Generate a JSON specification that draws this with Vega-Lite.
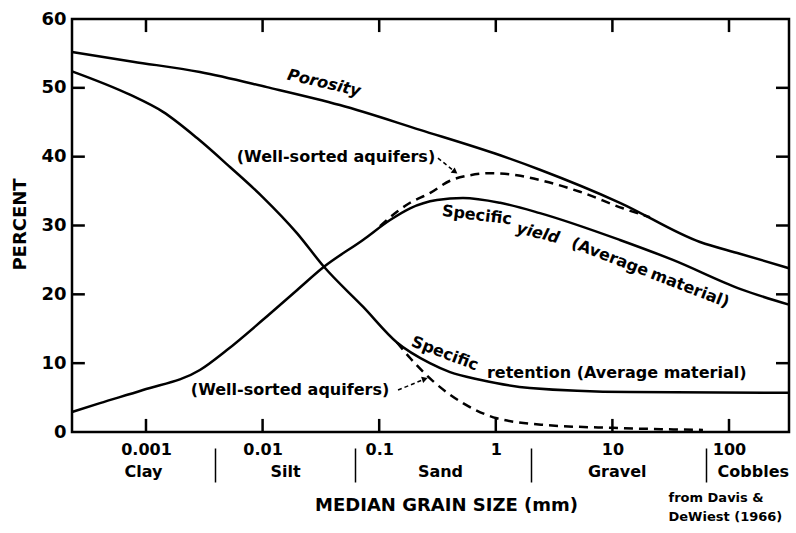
{
  "$schema": "https://vega.github.io/schema/vega-lite/v6.json",
  "width": 717,
  "height": 413,
  "autosize": {"type": "none"},
  "padding": {"left": 72, "top": 19, "right": 7, "bottom": 101},
  "background": "white",
  "config": {
    "font": "DejaVu Sans",
    "view": {"stroke": "black", "strokeWidth": 2.5, "fill": "transparent"},
    "axis": {"domain": false, "grid": false, "tickColor": "black", "labelColor": "black", "titleColor": "black", "labelFont": "DejaVu Sans", "titleFont": "DejaVu Sans", "zindex": 1}
  },
  "datasets": {
    "solid": [
      {"curve": "Porosity", "size": 0.000232, "pct": 55.2},
      {"curve": "Porosity", "size": 0.000773, "pct": 53.8},
      {"curve": "Porosity", "size": 0.0029, "pct": 52.3},
      {"curve": "Porosity", "size": 0.0109, "pct": 50.1},
      {"curve": "Porosity", "size": 0.046, "pct": 47.5},
      {"curve": "Porosity", "size": 0.224, "pct": 43.9},
      {"curve": "Porosity", "size": 1.09, "pct": 40.2},
      {"curve": "Porosity", "size": 2.39, "pct": 38.1},
      {"curve": "Porosity", "size": 11.6, "pct": 33.3},
      {"curve": "Porosity", "size": 56.4, "pct": 27.6},
      {"curve": "Porosity", "size": 124, "pct": 25.9},
      {"curve": "Porosity", "size": 327, "pct": 23.8},
      {"curve": "Specific yield", "size": 0.000232, "pct": 2.9},
      {"curve": "Specific yield", "size": 0.000403, "pct": 4.2},
      {"curve": "Specific yield", "size": 0.000942, "pct": 6.1},
      {"curve": "Specific yield", "size": 0.0029, "pct": 9.0},
      {"curve": "Specific yield", "size": 0.00494, "pct": 11.9},
      {"curve": "Specific yield", "size": 0.01007, "pct": 16.3},
      {"curve": "Specific yield", "size": 0.0197, "pct": 20.6},
      {"curve": "Specific yield", "size": 0.0336, "pct": 24.0},
      {"curve": "Specific yield", "size": 0.0726, "pct": 27.9},
      {"curve": "Specific yield", "size": 0.124, "pct": 30.8},
      {"curve": "Specific yield", "size": 0.184, "pct": 32.5},
      {"curve": "Specific yield", "size": 0.313, "pct": 33.7},
      {"curve": "Specific yield", "size": 0.523, "pct": 34.0},
      {"curve": "Specific yield", "size": 1.09, "pct": 33.3},
      {"curve": "Specific yield", "size": 2.39, "pct": 31.8},
      {"curve": "Specific yield", "size": 11.6, "pct": 27.9},
      {"curve": "Specific yield", "size": 33.0, "pct": 25.0},
      {"curve": "Specific yield", "size": 124, "pct": 20.8},
      {"curve": "Specific yield", "size": 327, "pct": 18.5},
      {"curve": "Specific retention", "size": 0.000232, "pct": 52.4},
      {"curve": "Specific retention", "size": 0.000728, "pct": 49.0},
      {"curve": "Specific retention", "size": 0.0014, "pct": 46.5},
      {"curve": "Specific retention", "size": 0.00274, "pct": 42.7},
      {"curve": "Specific retention", "size": 0.00525, "pct": 38.5},
      {"curve": "Specific retention", "size": 0.01007, "pct": 34.1},
      {"curve": "Specific retention", "size": 0.0197, "pct": 28.9},
      {"curve": "Specific retention", "size": 0.0336, "pct": 24.0},
      {"curve": "Specific retention", "size": 0.0726, "pct": 18.2},
      {"curve": "Specific retention", "size": 0.142, "pct": 13.0},
      {"curve": "Specific retention", "size": 0.272, "pct": 10.0},
      {"curve": "Specific retention", "size": 0.405, "pct": 8.7},
      {"curve": "Specific retention", "size": 0.731, "pct": 7.6},
      {"curve": "Specific retention", "size": 1.96, "pct": 6.4},
      {"curve": "Specific retention", "size": 14.2, "pct": 5.8},
      {"curve": "Specific retention", "size": 327, "pct": 5.7}
    ],
    "dashed": [
      {"curve": "Specific yield (well-sorted)", "size": 0.1016, "pct": 29.9},
      {"curve": "Specific yield (well-sorted)", "size": 0.142, "pct": 32.0},
      {"curve": "Specific yield (well-sorted)", "size": 0.184, "pct": 33.3},
      {"curve": "Specific yield (well-sorted)", "size": 0.272, "pct": 34.7},
      {"curve": "Specific yield (well-sorted)", "size": 0.405, "pct": 36.5},
      {"curve": "Specific yield (well-sorted)", "size": 0.6, "pct": 37.3},
      {"curve": "Specific yield (well-sorted)", "size": 0.891, "pct": 37.6},
      {"curve": "Specific yield (well-sorted)", "size": 1.52, "pct": 37.3},
      {"curve": "Specific yield (well-sorted)", "size": 2.39, "pct": 36.6},
      {"curve": "Specific yield (well-sorted)", "size": 5.27, "pct": 34.9},
      {"curve": "Specific yield (well-sorted)", "size": 12.3, "pct": 32.5},
      {"curve": "Specific yield (well-sorted)", "size": 21.0, "pct": 31.2},
      {"curve": "Specific retention (well-sorted)", "size": 0.142, "pct": 13.0},
      {"curve": "Specific retention (well-sorted)", "size": 0.184, "pct": 10.75},
      {"curve": "Specific retention (well-sorted)", "size": 0.289, "pct": 7.4},
      {"curve": "Specific retention (well-sorted)", "size": 0.523, "pct": 4.2},
      {"curve": "Specific retention (well-sorted)", "size": 1.02, "pct": 2.0},
      {"curve": "Specific retention (well-sorted)", "size": 2.75, "pct": 1.0},
      {"curve": "Specific retention (well-sorted)", "size": 10.1, "pct": 0.6},
      {"curve": "Specific retention (well-sorted)", "size": 59.8, "pct": 0.3}
    ],
    "labelsFlat": [
      {"label": "(Well-sorted aquifers)", "size": 0.0426, "pct": 39.95},
      {"label": "(Well-sorted aquifers)", "size": 0.0172, "pct": 6.1},
      {"label": "retention (Average material)", "size": 10.9, "pct": 8.6}
    ],
    "labelPorosity": [
      {"label": "Porosity", "size": 0.0336, "pct": 50.7}
    ],
    "labelTilt7": [
      {"label": "Specific", "size": 0.689, "pct": 31.5}
    ],
    "labelTilt14": [
      {"label": "yield", "size": 2.3, "pct": 28.9}
    ],
    "labelTilt21": [
      {"label": "(Average", "size": 9.53, "pct": 25.4},
      {"label": "material)", "size": 46.2, "pct": 20.9},
      {"label": "Specific", "size": 0.366, "pct": 11.4}
    ],
    "arrows": [
      {"arrow": "top", "size": 0.319, "pct": 39.8},
      {"arrow": "top", "size": 0.447, "pct": 37.8},
      {"arrow": "bottom", "size": 0.145, "pct": 6.1},
      {"arrow": "bottom", "size": 0.2466, "pct": 7.7}
    ],
    "headTop": [{"size": 0.447, "pct": 37.8}],
    "headBottom": [{"size": 0.2466, "pct": 7.7}],
    "xTicks": [{"size": 0.001}, {"size": 0.01}, {"size": 0.1}, {"size": 1}, {"size": 10}, {"size": 100}],
    "yTicks": [{"pct": 10}, {"pct": 20}, {"pct": 30}, {"pct": 40}, {"pct": 50}]
  },
  "resolve": {"axis": {"x": "independent", "y": "independent"}},
  "layer": [
    {
      "data": {"name": "solid"},
      "mark": {"type": "line", "color": "black", "strokeWidth": 2.5, "interpolate": "monotone"},
      "encoding": {
        "x": {"field": "size", "type": "quantitative", "scale": {"type": "log", "domain": [0.000232, 327], "nice": false}, "axis": null},
        "y": {"field": "pct", "type": "quantitative", "scale": {"domain": [0, 60], "nice": false}, "axis": null},
        "detail": {"field": "curve"}
      }
    },
    {
      "data": {"name": "dashed"},
      "mark": {"type": "line", "color": "black", "strokeWidth": 2.5, "strokeDash": [9, 6], "interpolate": "monotone"},
      "encoding": {
        "x": {"field": "size", "type": "quantitative", "scale": {"type": "log", "domain": [0.000232, 327], "nice": false}, "axis": null},
        "y": {"field": "pct", "type": "quantitative", "scale": {"domain": [0, 60], "nice": false}, "axis": null},
        "detail": {"field": "curve"}
      }
    },
    {
      "data": {"name": "arrows"},
      "mark": {"type": "line", "color": "black", "strokeWidth": 1.5, "strokeDash": [4, 3]},
      "encoding": {
        "x": {"field": "size", "type": "quantitative", "scale": {"type": "log", "domain": [0.000232, 327], "nice": false}, "axis": null},
        "y": {"field": "pct", "type": "quantitative", "scale": {"domain": [0, 60], "nice": false}, "axis": null},
        "detail": {"field": "arrow"}
      }
    },
    {
      "data": {"name": "xTicks"},
      "mark": {"type": "rule", "color": "black", "opacity": 1, "strokeWidth": 2.5},
      "encoding": {
        "x": {"field": "size", "type": "quantitative", "scale": {"type": "log", "domain": [0.000232, 327], "nice": false}, "axis": null},
        "y": {"datum": 0, "type": "quantitative", "scale": {"domain": [0, 60], "nice": false}, "axis": null},
        "y2": {"datum": 1.9}
      }
    },
    {
      "data": {"name": "xTicks"},
      "mark": {"type": "rule", "color": "black", "opacity": 1, "strokeWidth": 2.5},
      "encoding": {
        "x": {"field": "size", "type": "quantitative", "scale": {"type": "log", "domain": [0.000232, 327], "nice": false}, "axis": null},
        "y": {"datum": 60, "type": "quantitative", "scale": {"domain": [0, 60], "nice": false}, "axis": null},
        "y2": {"datum": 58.1}
      }
    },
    {
      "data": {"name": "yTicks"},
      "mark": {"type": "rule", "color": "black", "opacity": 1, "strokeWidth": 2.5},
      "encoding": {
        "x": {"datum": 0.000232, "type": "quantitative", "scale": {"type": "log", "domain": [0.000232, 327], "nice": false}, "axis": null},
        "x2": {"datum": 0.000299},
        "y": {"field": "pct", "type": "quantitative", "scale": {"domain": [0, 60], "nice": false}, "axis": null}
      }
    },
    {
      "data": {"name": "yTicks"},
      "mark": {"type": "rule", "color": "black", "opacity": 1, "strokeWidth": 2.5},
      "encoding": {
        "x": {"datum": 327, "type": "quantitative", "scale": {"type": "log", "domain": [0.000232, 327], "nice": false}, "axis": null},
        "x2": {"datum": 253},
        "y": {"field": "pct", "type": "quantitative", "scale": {"domain": [0, 60], "nice": false}, "axis": null}
      }
    },
    {
      "data": {"name": "labelTilt7"},
      "mark": {"type": "text", "font": "DejaVu Sans", "fontSize": 16, "fontWeight": "bold", "angle": 7, "align": "center", "baseline": "middle", "color": "black"},
      "encoding": {
        "x": {"field": "size", "type": "quantitative",
          "scale": {"type": "log", "domain": [0.000232, 327], "nice": false},
          "axis": {"orient": "bottom", "offset": -13, "values": [0.001, 0.01, 0.1, 1, 10, 100], "format": "~g",
            "ticks": true, "tickOpacity": 0, "tickSize": 13, "tickWidth": 2, "labelPadding": 9, "labelFontSize": 16, "labelFontWeight": "bold",
            "labelFlush": false, "labelOverlap": false,
            "title": "MEDIAN GRAIN SIZE (mm)", "titleFontSize": 18, "titleFontWeight": "bold",
            "titleX": 374, "titleY": 86, "titleAlign": "center", "titleBaseline": "middle"}},
        "y": {"field": "pct", "type": "quantitative",
          "scale": {"domain": [0, 60], "nice": false},
          "axis": {"orient": "left", "offset": -13, "values": [0, 10, 20, 30, 40, 50, 60],
            "ticks": true, "tickOpacity": 0, "tickSize": 13, "tickWidth": 2, "labelPadding": 6, "labelFontSize": 18, "labelFontWeight": "bold",
            "labelFlush": false, "labelOverlap": false,
            "title": "PERCENT", "titleFontSize": 18, "titleFontWeight": "bold",
            "titleX": -65, "titleY": 205, "titleAngle": -90, "titleAlign": "center", "titleBaseline": "middle"}},
        "text": {"field": "label"}
      }
    },
    {
      "data": {"name": "labelTilt14"},
      "mark": {"type": "text", "font": "DejaVu Sans", "fontSize": 16, "fontWeight": "bold", "fontStyle": "italic", "angle": 14, "align": "center", "baseline": "middle", "color": "black"},
      "encoding": {
        "x": {"field": "size", "type": "quantitative",
          "scale": {"type": "log", "domain": [0.000232, 327], "nice": false},
          "axis": {"orient": "bottom", "values": [0.000942, 0.01556, 0.332, 10.9, 160],
            "labelExpr": "datum.value < 0.005 ? 'Clay' : datum.value < 0.05 ? 'Silt' : datum.value < 1 ? 'Sand' : datum.value < 50 ? 'Gravel' : 'Cobbles'",
            "ticks": false, "tickSize": 0, "labelPadding": 31, "labelFontSize": 16, "labelFontWeight": "bold",
            "labelFlush": false, "labelOverlap": false, "title": null}},
        "y": {"field": "pct", "type": "quantitative", "scale": {"domain": [0, 60], "nice": false}, "axis": null},
        "text": {"field": "label"}
      }
    },
    {
      "data": {"name": "labelsFlat"},
      "mark": {"type": "text", "font": "DejaVu Sans", "fontSize": 16, "fontWeight": "bold", "align": "center", "baseline": "middle", "color": "black"},
      "encoding": {
        "x": {"field": "size", "type": "quantitative",
          "scale": {"type": "log", "domain": [0.000232, 327], "nice": false},
          "axis": {"orient": "bottom", "offset": 16, "values": [0.0039, 0.0625, 2, 64],
            "tickSize": 34, "tickWidth": 1.5, "labels": false,
            "title": ["from Davis &", "DeWiest (1966)"], "titleFontSize": 13, "titleFontWeight": "bold",
            "titleLineHeight": 19, "titleX": 596, "titleY": 43, "titleAlign": "left", "titleBaseline": "top"}},
        "y": {"field": "pct", "type": "quantitative", "scale": {"domain": [0, 60], "nice": false}, "axis": null},
        "text": {"field": "label"}
      }
    },
    {
      "data": {"name": "labelPorosity"},
      "mark": {"type": "text", "font": "DejaVu Sans", "fontSize": 16, "fontWeight": "bold", "fontStyle": "italic", "angle": 13, "align": "center", "baseline": "middle", "color": "black"},
      "encoding": {
        "x": {"field": "size", "type": "quantitative", "scale": {"type": "log", "domain": [0.000232, 327], "nice": false}, "axis": null},
        "y": {"field": "pct", "type": "quantitative", "scale": {"domain": [0, 60], "nice": false}, "axis": null},
        "text": {"field": "label"}
      }
    },
    {
      "data": {"name": "labelTilt21"},
      "mark": {"type": "text", "font": "DejaVu Sans", "fontSize": 16, "fontWeight": "bold", "angle": 21, "align": "center", "baseline": "middle", "color": "black"},
      "encoding": {
        "x": {"field": "size", "type": "quantitative", "scale": {"type": "log", "domain": [0.000232, 327], "nice": false}, "axis": null},
        "y": {"field": "pct", "type": "quantitative", "scale": {"domain": [0, 60], "nice": false}, "axis": null},
        "text": {"field": "label"}
      }
    },
    {
      "data": {"name": "headTop"},
      "mark": {"type": "point", "shape": "triangle-right", "filled": true, "size": 45, "angle": 37, "color": "black", "opacity": 1},
      "encoding": {
        "x": {"field": "size", "type": "quantitative", "scale": {"type": "log", "domain": [0.000232, 327], "nice": false}, "axis": null},
        "y": {"field": "pct", "type": "quantitative", "scale": {"domain": [0, 60], "nice": false}, "axis": null}
      }
    },
    {
      "data": {"name": "headBottom"},
      "mark": {"type": "point", "shape": "triangle-right", "filled": true, "size": 45, "angle": -18, "color": "black", "opacity": 1},
      "encoding": {
        "x": {"field": "size", "type": "quantitative", "scale": {"type": "log", "domain": [0.000232, 327], "nice": false}, "axis": null},
        "y": {"field": "pct", "type": "quantitative", "scale": {"domain": [0, 60], "nice": false}, "axis": null}
      }
    }
  ]
}
